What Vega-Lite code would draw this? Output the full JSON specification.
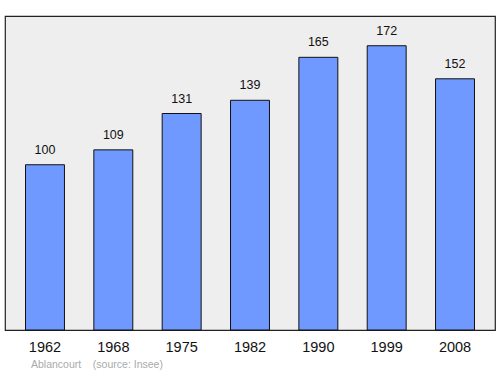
{
  "$schema": "https://vega.github.io/schema/vega-lite/v6.json",
  "width": 490,
  "height": 314,
  "autosize": {"type": "none"},
  "padding": {"left": 5, "top": 16, "right": 5, "bottom": 44},
  "background": "white",
  "config": {
    "view": {"fill": "#eeeeee", "stroke": "#222222", "strokeWidth": 1.2},
    "font": "Liberation Sans"
  },
  "title": {
    "text": "Ablancourt\u00a0\u00a0\u00a0\u00a0(source: Insee)",
    "orient": "bottom",
    "anchor": "start",
    "dx": 26,
    "offset": 6,
    "fontSize": 10.5,
    "fontWeight": "normal",
    "color": "#aaaaaa",
    "font": "Liberation Sans"
  },
  "data": {
    "values": [
      {"year": "1962", "pop": 100},
      {"year": "1968", "pop": 109},
      {"year": "1975", "pop": 131},
      {"year": "1982", "pop": 139},
      {"year": "1990", "pop": 165},
      {"year": "1999", "pop": 172},
      {"year": "2008", "pop": 152}
    ]
  },
  "encoding": {
    "x": {
      "field": "year",
      "type": "nominal",
      "sort": null,
      "scale": {"paddingInner": 0.43, "paddingOuter": 0.3},
      "axis": {
        "title": null,
        "domain": false,
        "ticks": false,
        "labelAngle": 0,
        "labelFontSize": 14.5,
        "labelColor": "#111111",
        "labelPadding": 10
      }
    },
    "y": {
      "field": "pop",
      "type": "quantitative",
      "scale": {"domain": [0, 190], "nice": false},
      "axis": null
    }
  },
  "layer": [
    {
      "mark": {"type": "bar", "color": "#7099ff", "stroke": "#111111", "strokeWidth": 1}
    },
    {
      "mark": {"type": "text", "baseline": "bottom", "dy": -8, "fontSize": 12.5, "color": "#111111"},
      "encoding": {"text": {"field": "pop", "type": "quantitative"}}
    }
  ]
}
